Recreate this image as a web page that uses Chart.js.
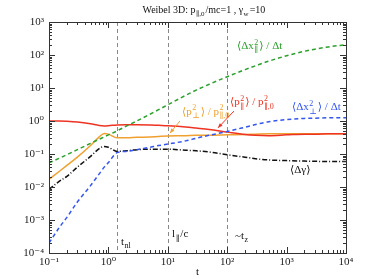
<!DOCTYPE html>
<html>
<head>
<meta charset="utf-8">
<script src="https://cdn.jsdelivr.net/npm/chart.js@4.4.0/dist/chart.umd.min.js"></script>
<style>html,body{margin:0;padding:0;background:#fff}</style>
</head>
<body>
<canvas id="weibelChart" width="374" height="279"></canvas>
<script>
// time samples (t) and series
var times      = [0.1, 0.15, 0.2, 0.3, 0.5, 0.7, 0.85, 1.0, 1.4, 2, 3, 5, 7, 10, 20, 30, 50, 100, 200, 300, 500, 1000, 2000, 3000, 5000, 10000];
var dxParDt    = [0.054, 0.075, 0.095, 0.135, 0.21, 0.28, 0.33, 0.38, 0.50, 0.70, 1.0, 1.6, 2.2, 3.1, 6.0, 8.6, 13, 22, 36, 47, 65, 95, 130, 150, 175, 205];
var dxPerpDt   = [2.0e-4, 6e-4, 1.2e-3, 3.5e-3, 0.011, 0.025, 0.04, 0.055, 0.11, 0.12, 0.135, 0.16, 0.18, 0.2, 0.25, 0.3, 0.37, 0.48, 0.65, 0.78, 0.95, 1.1, 1.2, 1.22, 1.25, 1.25];
var pPar2      = [1.0, 1.0, 0.98, 0.93, 0.82, 0.73, 0.71, 0.72, 0.76, 0.77, 0.77, 0.76, 0.74, 0.72, 0.66, 0.61, 0.55, 0.46, 0.39, 0.37, 0.36, 0.38, 0.40, 0.40, 0.41, 0.41];
var pPerp2     = [0.017, 0.03, 0.045, 0.08, 0.18, 0.33, 0.42, 0.40, 0.31, 0.31, 0.32, 0.33, 0.34, 0.35, 0.36, 0.37, 0.37, 0.38, 0.39, 0.40, 0.41, 0.41, 0.41, 0.41, 0.41, 0.41];
var dGamma     = [0.0085, 0.015, 0.021, 0.04, 0.085, 0.145, 0.17, 0.16, 0.12, 0.125, 0.135, 0.14, 0.14, 0.14, 0.13, 0.125, 0.115, 0.095, 0.08, 0.072, 0.066, 0.063, 0.061, 0.06, 0.059, 0.059];

var xTicks = [0.1, 1, 10, 100, 1000, 10000];
var yTicks = [1e-4, 1e-3, 1e-2, 1e-1, 1, 10, 100, 1000];
var markerTimes = [1.41, 10, 100];

var SERIF = '"Liberation Serif", "DejaVu Serif", serif';
var SUP = {'-': '\u207B', '0': '\u2070', '1': '\u00B9', '2': '\u00B2', '3': '\u00B3', '4': '\u2074'};

function powLabel(v) {
  var e = Math.round(Math.log10(v));
  return '10' + String(e).split('').map(function(c) { return SUP[c]; }).join('');
}

function pts(arr) {
  return times.map(function(t, i) { return {x: t, y: arr[i]}; });
}

// rich text: items are strings or [sup, sub] pairs
function drawRich(c, x, y, items, color, size) {
  var small = Math.round(size * 0.72);
  c.save();
  c.fillStyle = color;
  c.textBaseline = 'alphabetic';
  items.forEach(function(it) {
    if (typeof it === 'string') {
      c.font = size + 'px ' + SERIF;
      c.fillText(it, x, y);
      x += c.measureText(it).width;
    } else {
      c.font = small + 'px ' + SERIF;
      var w = 0;
      if (it[0]) { c.fillText(it[0], x + 0.5, y - size * 0.42); w = c.measureText(it[0]).width; }
      if (it[1]) { c.fillText(it[1], x + 0.5, y + size * 0.3); w = Math.max(w, c.measureText(it[1]).width); }
      x += w + 1.5;
    }
  });
  c.restore();
}

var labels = [
  {t: 146,  v: 150,    color: '#2ca02c', items: ['\u27E8\u0394x', ['2', '\u2225'], '\u27E9 / \u0394t']},
  {t: 1230, v: 2.1,    color: '#3355ee', items: ['\u27E8\u0394x', ['2', '\u22A5'], '\u27E9 / \u0394t']},
  {t: 111,  v: 3.0,    color: '#ee3322', items: ['\u27E8p', ['2', '\u2225'], '\u27E9 / p', ['2', '\u2225,0']]},
  {t: 17.3, v: 1.55,   color: '#f0a030', items: ['\u27E8p', ['2', '\u22A5'], '\u27E9 / p', ['2', '\u2225,0']]},
  {t: 1140, v: 0.026,  color: '#111111', items: ['\u27E8\u0394\u03B3\u27E9']},
  {t: 1.63, v: 1.8e-4, color: '#111111', items: ['t', ['', 'nl']]},
  {t: 11.8, v: 3.0e-4, color: '#111111', items: ['l', ['', '\u2225'], '/c']},
  {t: 135,  v: 2.7e-4, color: '#111111', items: ['~t', ['', 'z']]}
];
var arrows = [
  {from: [130, 2.0], to: [70, 0.62], color: '#ee3322'},
  {from: [16, 1.0], to: [10.9, 0.43], color: '#f0a030'}
];

var decorPlugin = {
  id: 'decor',
  beforeDatasetsDraw: function(chart) {
    var c = chart.ctx, a = chart.chartArea, xs = chart.scales.x;
    c.save();
    c.strokeStyle = '#888';
    c.lineWidth = 1;
    c.setLineDash([4, 3]);
    markerTimes.forEach(function(t) {
      var px = Math.round(xs.getPixelForValue(t)) + 0.5;
      c.beginPath(); c.moveTo(px, a.top); c.lineTo(px, a.bottom); c.stroke();
    });
    c.restore();
  },
  afterDatasetsDraw: function(chart) {
    var c = chart.ctx, a = chart.chartArea, xs = chart.scales.x, ys = chart.scales.y;
    c.save();
    c.strokeStyle = '#333';
    c.lineWidth = 1;
    c.strokeRect(a.left + 0.5, a.top + 0.5, a.right - a.left, a.bottom - a.top);
    // inward ticks on all four sides
    c.beginPath();
    for (var e = -1; e <= 4; e++) {
      for (var m = 1; m <= 9; m++) {
        var v = m * Math.pow(10, e);
        if (v > 1e4) break;
        var px = Math.round(xs.getPixelForValue(v)) + 0.5, len = m === 1 ? 6 : 3;
        c.moveTo(px, a.bottom); c.lineTo(px, a.bottom - len);
        c.moveTo(px, a.top); c.lineTo(px, a.top + len);
      }
    }
    for (var e2 = -4; e2 <= 3; e2++) {
      for (var m2 = 1; m2 <= 9; m2++) {
        var v2 = m2 * Math.pow(10, e2);
        if (v2 > 1e3) break;
        var py = Math.round(ys.getPixelForValue(v2)) + 0.5, len2 = m2 === 1 ? 6 : 3;
        c.moveTo(a.left, py); c.lineTo(a.left + len2, py);
        c.moveTo(a.right, py); c.lineTo(a.right - len2, py);
      }
    }
    c.stroke();
    c.restore();

    labels.forEach(function(l) {
      drawRich(c, xs.getPixelForValue(l.t), ys.getPixelForValue(l.v), l.items, l.color, 11);
    });
    arrows.forEach(function(ar) {
      var x1 = xs.getPixelForValue(ar.from[0]), y1 = ys.getPixelForValue(ar.from[1]);
      var x2 = xs.getPixelForValue(ar.to[0]), y2 = ys.getPixelForValue(ar.to[1]);
      var ang = Math.atan2(y2 - y1, x2 - x1);
      c.save();
      c.strokeStyle = ar.color; c.fillStyle = ar.color; c.lineWidth = 1;
      c.beginPath(); c.moveTo(x1, y1); c.lineTo(x2, y2); c.stroke();
      c.beginPath();
      c.moveTo(x2, y2);
      c.lineTo(x2 - 5 * Math.cos(ang - 0.4), y2 - 5 * Math.sin(ang - 0.4));
      c.lineTo(x2 - 5 * Math.cos(ang + 0.4), y2 - 5 * Math.sin(ang + 0.4));
      c.closePath(); c.fill();
      c.restore();
    });

    // title and x axis title
    drawRich(c, a.left + (a.right - a.left) / 2 - 55, 13, ['Weibel 3D: p', ['', '\u2225,0'], '/mc=1 , \u03B3', ['', 'w'], '=10'], '#111', 10);
    c.save();
    c.fillStyle = '#111';
    c.font = '11px ' + SERIF;
    c.textAlign = 'center';
    c.fillText('t', a.left + (a.right - a.left) / 2, 275);
    c.restore();
  }
};

var ctx = document.getElementById('weibelChart');
new Chart(ctx, {
  type: 'line',
  data: {
    datasets: [
      {data: pts(dxParDt),  borderColor: '#2ca02c', borderWidth: 1.5, borderDash: [4, 3]},
      {data: pts(dxPerpDt), borderColor: '#3355ee', borderWidth: 1.5, borderDash: [4, 3]},
      {data: pts(pPar2),    borderColor: '#ee3322', borderWidth: 1.5},
      {data: pts(pPerp2),   borderColor: '#f0a030', borderWidth: 1.5},
      {data: pts(dGamma),   borderColor: '#111111', borderWidth: 1.5, borderDash: [5, 2, 1, 2]}
    ]
  },
  options: {
    responsive: false,
    animation: false,
    elements: {point: {radius: 0}, line: {cubicInterpolationMode: 'monotone', fill: false}},
    layout: {padding: {left: 0, right: 28, top: 22, bottom: 0}},
    plugins: {legend: {display: false}, tooltip: {enabled: false}},
    scales: {
      x: {
        type: 'logarithmic', min: 0.1, max: 10000,
        afterBuildTicks: function(s) { s.ticks = xTicks.map(function(v) { return {value: v}; }); },
        afterFit: function(s) { s.height = 26; },
        grid: {display: false, drawTicks: false},
        border: {display: false},
        ticks: {callback: powLabel, autoSkip: false, maxRotation: 0, padding: 3, color: '#222', font: {family: SERIF, size: 11}}
      },
      y: {
        type: 'logarithmic', min: 1e-4, max: 1000,
        afterBuildTicks: function(s) { s.ticks = yTicks.map(function(v) { return {value: v}; }); },
        afterFit: function(s) { s.width = 49; },
        grid: {display: false, drawTicks: false},
        border: {display: false},
        ticks: {callback: powLabel, autoSkip: false, padding: 5, color: '#222', font: {family: SERIF, size: 11}}
      }
    }
  },
  plugins: [decorPlugin]
});
</script>
</body>
</html>
